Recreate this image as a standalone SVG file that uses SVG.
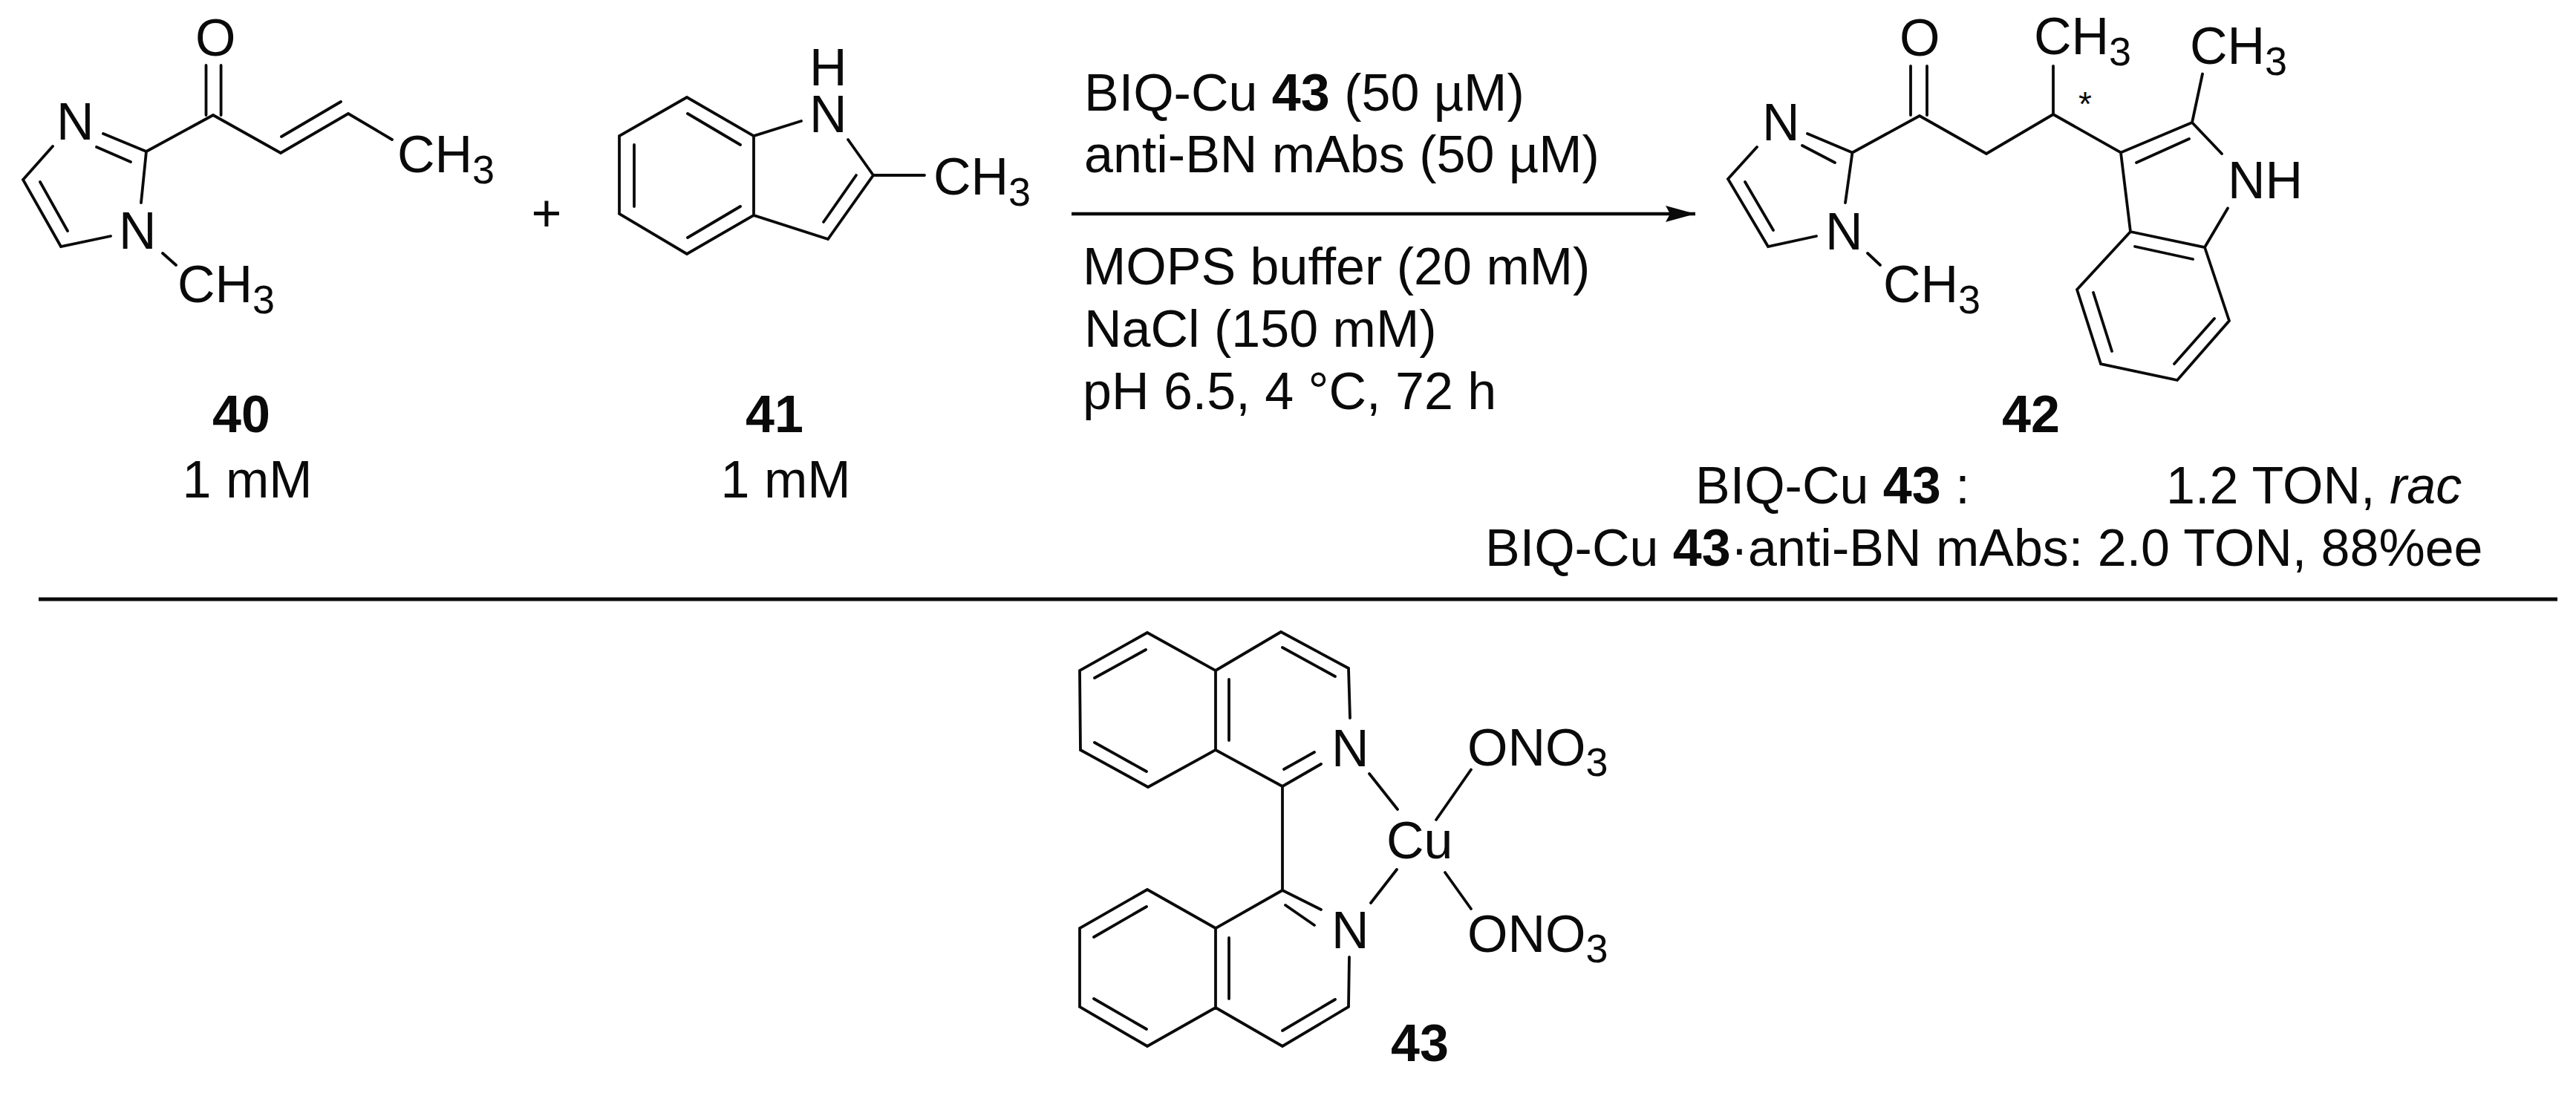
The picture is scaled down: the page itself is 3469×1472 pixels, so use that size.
<svg xmlns="http://www.w3.org/2000/svg" width="3469" height="1472" viewBox="0 0 3469 1472">
<style>
text{font-family:"Liberation Sans",Arial,sans-serif;font-size:70px;fill:#0a0a0a}
.b{font-weight:bold}
.i{font-style:italic}
.s{font-size:54px}
.bond{fill:none;stroke:#0a0a0a;stroke-width:3.8;stroke-linecap:round;stroke-linejoin:miter}
.rule{stroke:#0a0a0a;stroke-width:5;fill:none}
</style>
<defs>
<marker id="head" markerUnits="userSpaceOnUse" markerWidth="44" markerHeight="28" refX="42" refY="13" orient="auto">
<path d="M2 2 L42 13 L2 24 L8 13 Z" fill="#0a0a0a"/>
</marker>
</defs>
<rect width="3469" height="1472" fill="#fff"/>

<g id="compound-40">
<path class="bond" d="M277.500 88V155M297.600 88V155M197 204L287 155L378 206L469 153L528 188M379 184L459 137M197 204L190 273M197 204L139 180M176 218L130 198M71 197L31 242L82 332L149 318M54 245L91 311M219 341L237 357"/>
<text x="263" y="75">O</text>
<text x="76" y="188">N</text>
<text x="160" y="335">N</text>
<text x="535" y="232">CH<tspan class="s" dy="15">3</tspan></text>
<text x="239" y="407">CH<tspan class="s" dy="15">3</tspan></text>
<text class="b" x="325" y="582" text-anchor="middle">40</text>
<text x="333" y="670" text-anchor="middle">1 mM</text>
</g>

<text id="plus" x="736" y="311" text-anchor="middle">+</text>

<g id="compound-41">
<path class="bond" d="M925 131L834 183V288L925 342L1015 290V183ZM926 153L997 195M854 195V278M926 320L997 278M1015 183L1079 163M1142 188L1176 236L1115 322L1015 290M1153 236L1109 299M1176 236H1245"/>
<text x="1090" y="115">H</text>
<text x="1090" y="178">N</text>
<text x="1257" y="262">CH<tspan class="s" dy="15">3</tspan></text>
<text class="b" x="1043" y="582" text-anchor="middle">41</text>
<text x="1058" y="670" text-anchor="middle">1 mM</text>
</g>

<g id="connectors">
<line id="arrow" x1="1443" y1="288" x2="2283" y2="288" stroke="#0a0a0a" stroke-width="4.500" marker-end="url(#head)"/>
<line id="divider" class="rule" x1="52" y1="807" x2="3444" y2="807"/>
</g>

<g id="conditions">
<text x="1460" y="149">BIQ-Cu <tspan class="b">43</tspan> (50 µM)</text>
<text x="1460" y="232">anti-BN mAbs (50 µM)</text>
<text x="1458" y="383">MOPS buffer (20 mM)</text>
<text x="1460" y="467">NaCl (150 mM)</text>
<text x="1458" y="551">pH 6.5, 4 °C, 72 h</text>
</g>

<g id="compound-42">
<path class="bond" d="M2573 89V155M2595 89V155M2494.500 205.500L2585 156L2675 207L2765 154L2856 205.500L2952 165L2992 207M2765 154V89M2877 219L2948 187M2952 165L2966 99.500M3000 280.500L2969 333L2869 312L2856 205.500M2875 332L2953 349M2869 312L2797 390L2829 490L2932 512L3002 432L2969 333M2819 394L2844 473M2928 490L2982 429M2494.500 205.500L2485 273M2494.500 205.500L2434 180M2471 219L2427 196M2366 198L2327 241L2381 332L2446 318M2350 245L2388 310M2515 341L2532 357"/>
<text x="2558" y="75">O</text>
<text x="2739" y="73">CH<tspan class="s" dy="15">3</tspan></text>
<text x="2949" y="86">CH<tspan class="s" dy="15">3</tspan></text>
<text x="3000" y="267">NH</text>
<text x="2373" y="189">N</text>
<text x="2458" y="336">N</text>
<text x="2536" y="407">CH<tspan class="s" dy="15">3</tspan></text>
<text x="2808" y="156" text-anchor="middle" style="font-size:46px">*</text>
<text class="b" x="2735" y="582" text-anchor="middle">42</text>
</g>

<g id="results">
<text x="2283" y="678">BIQ-Cu <tspan class="b">43</tspan> :</text>
<text x="2917" y="678">1.2 TON, <tspan class="i">rac</tspan></text>
<text x="2000" y="762">BIQ-Cu <tspan class="b">43</tspan>·anti-BN mAbs: 2.0 TON, 88%ee</text>
</g>

<g id="compound-43">
<path class="bond" d="M1545 852L1454 903L1455 1010L1546 1060L1637 1010V903ZM1637 903L1725 851L1816 900L1818 967M1543 875L1474 913M1474 1000L1544 1039M1655 915V997M1727 872L1798 911M1637 1010L1727 1059L1779 1029M1729 1036L1770 1013M1844 1042L1882 1090M1934 1104L1981 1036.500M1727 1059V1199M1727 1199L1779 1225M1731 1219L1770 1246M1727 1199L1637 1250V1357M1655 1263V1345M1637 1250L1545 1198L1454 1250V1356L1545 1409L1637 1357L1727 1409L1816 1356L1817 1289M1544 1221L1473 1262M1473 1345L1544 1386M1727 1388L1798 1346M1881 1171L1846 1216M1946 1175L1981 1224"/>
<text x="1793" y="1032">N</text>
<text x="1793" y="1277">N</text>
<text x="1867" y="1156">Cu</text>
<text x="1976" y="1031">ONO<tspan class="s" dy="14">3</tspan></text>
<text x="1976" y="1282">ONO<tspan class="s" dy="14">3</tspan></text>
<text class="b" x="1912" y="1429" text-anchor="middle">43</text>
</g>
</svg>
